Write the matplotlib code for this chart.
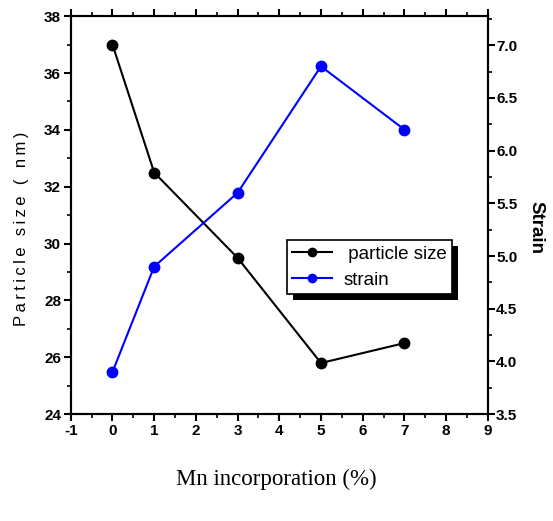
import matplotlib.pyplot as plt
from matplotlib.ticker import MultipleLocator
from matplotlib.patches import Rectangle
from matplotlib.transforms import IdentityTransform

mn = [0, 1, 3, 5, 7]
particle_size = [37.0, 32.5, 29.5, 25.8, 26.5]
strain = [3.9, 4.9, 5.6, 6.8, 6.2]

plt.rcParams['font.family'] = ['Liberation Sans', 'DejaVu Sans']
plt.rcParams['axes.unicode_minus'] = False

fig = plt.figure(figsize=(5.53, 5.21), dpi=100)
ax = fig.add_axes([0.128, 0.205, 0.754, 0.764])
ax2 = ax.twinx()

l1, = ax.plot(mn, particle_size, color='black', marker='o', markersize=7.5, linewidth=1.5, label=' particle size')
l2, = ax2.plot(mn, strain, color='blue', marker='o', markersize=7.5, linewidth=1.5, label='strain')

ax.set_xlim(-1, 9)
ax.set_ylim(24, 38)
ax2.set_ylim(3.5, 7.276)

ax.xaxis.set_major_locator(MultipleLocator(1))
ax.xaxis.set_minor_locator(MultipleLocator(0.5))
ax.yaxis.set_major_locator(MultipleLocator(2))
ax.yaxis.set_minor_locator(MultipleLocator(1))
ax2.yaxis.set_major_locator(MultipleLocator(0.5))
ax2.yaxis.set_minor_locator(MultipleLocator(0.25))

ax.tick_params(axis='x', which='both', direction='out', top=True)
ax.tick_params(axis='x', which='major', length=5, width=1.5)
ax.tick_params(axis='x', which='minor', length=3, width=1.2)
ax.tick_params(axis='y', which='major', length=5, width=1.5)
ax.tick_params(axis='y', which='minor', length=3, width=1.2)
ax2.tick_params(axis='y', which='major', length=5, width=1.5)
ax2.tick_params(axis='y', which='minor', length=3, width=1.2)
# top ticks point inward
for t in ax.xaxis.get_major_ticks() + ax.xaxis.get_minor_ticks():
    t.tick2line.set_marker(2)

for lab in ax.get_xticklabels() + ax.get_yticklabels() + ax2.get_yticklabels():
    lab.set_fontweight('bold')
    lab.set_fontsize(11)
ax.tick_params(axis='both', pad=2)
ax2.tick_params(axis='y', pad=1)

for s in ax.spines.values():
    s.set_linewidth(1.5)
for s in ax2.spines.values():
    s.set_linewidth(1.5)

spaced = '\u2009'.join('Particle size ( nm)')
ax.set_ylabel(spaced, fontsize=12, ha='center', va='center')
ax.yaxis.set_label_coords(-0.118, 0.465)
ax2.set_ylabel('Strain', fontsize=13.5, fontweight='bold', rotation=270, ha='center', va='center')
ax2.yaxis.set_label_coords(1.115, 0.47)

fig.text(0.5, 0.08, 'Mn incorporation (%)', ha='center', va='center',
         fontsize=16.5, family=['Liberation Serif', 'DejaVu Serif'])

leg = ax2.legend(handles=[l1, l2], loc='upper left', bbox_to_anchor=(0.518, 0.437),
                 borderaxespad=0, fontsize=13.5, frameon=True, fancybox=False, framealpha=1,
                 borderpad=0.3, handlelength=2.1, handletextpad=0.6, labelspacing=0.45,
                 edgecolor='black', markerscale=0.8)
leg.get_frame().set_linewidth(1.2)
leg.set_zorder(6)

# drop shadow behind the legend box
fig.canvas.draw()
bb = leg.get_window_extent()
ax2.add_patch(Rectangle((bb.x0 + 6, bb.y0 - 6), bb.width, bb.height, transform=IdentityTransform(),
                        facecolor='black', edgecolor='none', zorder=5, clip_on=False))

fig.savefig('out.png', dpi=100)
